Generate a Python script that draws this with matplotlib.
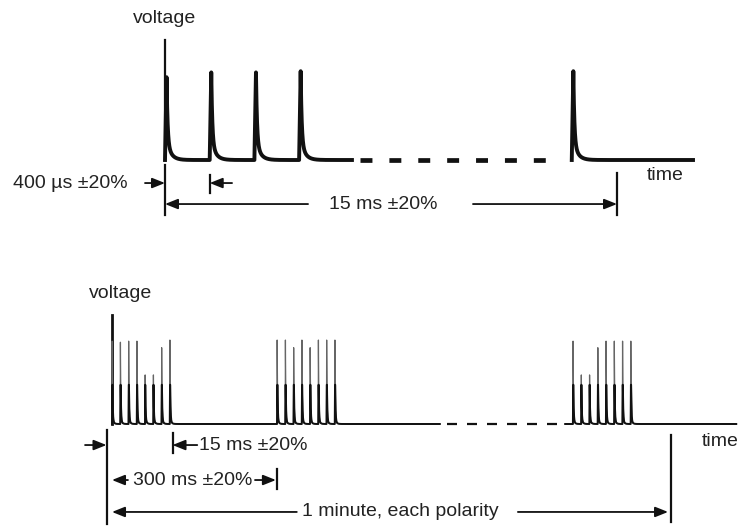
import numpy as np
import matplotlib
matplotlib.use("Agg")
import matplotlib.pyplot as plt

plt.rcParams['font.family'] = ['Liberation Sans', 'DejaVu Sans']
plt.rcParams['lines.scale_dashes'] = False

# --- top trace: single pulses (time in microseconds, height relative to axis) ---
top_pulse_us = [0, 400, 800, 1200]
top_pulse_peak = [0.69, 0.73, 0.73, 0.74]
top_last_pulse_us = [3640]
top_last_peak = [0.74]
top_solid_end_us = 1673
top_gap_us = [1745, 3517]          # drawn dashed (broken time axis)
top_end_us = 4725
top_mark_us = 4045                 # "15 ms" marker, schematic position

# --- bottom trace: bursts of pulses (time in ms) ---
burst_ms = [
    [0, 15, 30, 45, 60, 75, 90, 105],
    [300, 315, 330, 345, 360, 375, 390, 405],
    [838, 853, 868, 883, 898, 913, 928, 943],
]
burst_peak = [
    [0.76, 0.75, 0.76, 0.76, 0.45, 0.45, 0.70, 0.77],
    [0.77, 0.77, 0.70, 0.77, 0.70, 0.77, 0.77, 0.77],
    [0.76, 0.45, 0.45, 0.70, 0.76, 0.76, 0.76, 0.76],
]
bot_solid_end_ms = 596
bot_gap_ms = [609, 818]
bot_restart_ms = 824
bot_end_ms = 1135
bot_pulse_mark_ms = 110            # "15 ms" marker after first burst
bot_mark_ms = 1016                 # "1 minute" marker, schematic position

W, H = 738, 526
fig = plt.figure(figsize=(W / 100, H / 100), dpi=100)
INK = '#111111'
TXT = '#222222'
FS = 14


def panel(top_px, bottom_px, x0_px, px_x, y0_px, px_y):
    # axes spanning full width; time origin at x0_px, baseline at y0_px
    ax = fig.add_axes([0, 1 - bottom_px / H, 1, (bottom_px - top_px) / H])
    ax.set_xlim(-x0_px / px_x, (W - x0_px) / px_x)
    ax.set_ylim(-(bottom_px - y0_px) / px_y, (y0_px - top_px) / px_y)
    ax.axis('off')
    return ax


def pulse_train(times, peaks, t_start, t_end, rise, tau, tail, tail_tau):
    # fast spike + slower tail, one pulse per start time
    t_all, y_all = [t_start], [0.0]
    edges = list(times[1:]) + [t_end]
    for t0, h, t1 in zip(times, peaks, edges):
        dt = np.concatenate([[0], np.geomspace(tau * 0.01, t1 - t0 - rise, 400)])
        y = (h - tail) * np.exp(-dt / tau) + tail * np.exp(-dt / tail_tau)
        t_all += [t0] + list(t0 + rise + dt)
        y_all += [0.0] + list(y)
    return np.array(t_all), np.array(y_all)


def arrow(ax, tail, head, lw=1.3):
    ax.annotate('', xy=head, xytext=tail,
                arrowprops=dict(arrowstyle='-|>,head_length=0.55,head_width=0.22',
                                mutation_scale=14, lw=lw, color=INK,
                                shrinkA=0, shrinkB=0))


# ================= top panel =================
ax1 = panel(0, 263, 165, 0.11175, 160, 120)

ax1.plot([0, 0], [0, 1.0], color=INK, lw=1.6)
ax1.text(0, 1.18, 'voltage', ha='center', va='center', fontsize=FS, color=TXT)

for times, peaks, t0, t1 in [
        (top_pulse_us, top_pulse_peak, top_pulse_us[0], top_solid_end_us),
        (top_last_pulse_us, top_last_peak, top_last_pulse_us[0], top_end_us)]:
    t, y = pulse_train(times, peaks, t0, t1, 14, 9, 0.16, 38)
    ax1.plot(t, y, color=INK, lw=2.8, solid_joinstyle='round')
ax1.plot(top_gap_us, [0, 0], color=INK, lw=3.4, dashes=(8.6, 12.2))
ax1.text(4313, -0.125, 'time', ha='left', va='center', fontsize=FS, color=TXT)

# 400 us marker
ax1.plot([top_pulse_us[0]] * 2, [-0.04, -0.46], color=INK, lw=1.6)
ax1.plot([top_pulse_us[1]] * 2, [-0.125, -0.275], color=INK, lw=1.6)
arrow(ax1, (-179, -0.192), (top_pulse_us[0], -0.192))
arrow(ax1, (600, -0.192), (top_pulse_us[1], -0.192))
ax1.text(-331, -0.192, '400 \u00b5s \u00b120%', ha='right', va='center',
         fontsize=FS, color=TXT)

# 15 ms marker
ax1.plot([top_mark_us] * 2, [-0.108, -0.458], color=INK, lw=1.6)
arrow(ax1, (1280, -0.367), (top_pulse_us[0], -0.367))
arrow(ax1, (2756, -0.367), (top_mark_us, -0.367))
ax1.text(1951, -0.367, '15 ms \u00b120%', ha='center', va='center',
         fontsize=FS, color=TXT)

# ================= bottom panel =================
ax2 = panel(263, 526, 112, 0.55, 424, 109)

ax2.plot([0, 0], [0, 1.0], color=INK, lw=2.0)
ax2.text(16, 1.20, 'voltage', ha='center', va='center', fontsize=FS, color=TXT)

segments = [
    (burst_ms[0] + burst_ms[1], burst_peak[0] + burst_peak[1], 0, bot_solid_end_ms),
    (burst_ms[2], burst_peak[2], bot_restart_ms, bot_end_ms),
]
for times, peaks, t0, t1 in segments:
    t, y = pulse_train(times, peaks, t0, t1, 0.3, 0.7, 0.04, 2.5)
    ax2.plot(t, y, color='#666666', lw=0.9)
    ax2.plot(t, np.minimum(y, 0.36), color=INK, lw=1.4)
ax2.plot(bot_gap_ms, [0, 0], color=INK, lw=1.6, dashes=(7.2, 7.2))
ax2.text(1073, -0.165, 'time', ha='left', va='center', fontsize=FS, color=TXT)

# start marker
ax2.plot([-9, -9], [-0.055, -0.917], color=INK, lw=1.6)
arrow(ax2, (-49, -0.193), (-10, -0.193))

# 15 ms marker
ax2.plot([bot_pulse_mark_ms] * 2, [-0.083, -0.266], color=INK, lw=1.6)
arrow(ax2, (155, -0.193), (bot_pulse_mark_ms, -0.193))
ax2.text(158, -0.193, '15 ms \u00b120%', ha='left', va='center',
         fontsize=FS, color=TXT)

# 300 ms marker
ax2.plot([burst_ms[1][0]] * 2, [-0.413, -0.596], color=INK, lw=1.6)
arrow(ax2, (29, -0.514), (burst_ms[0][0], -0.514))
arrow(ax2, (260, -0.514), (burst_ms[1][0] - 2, -0.514))
ax2.text(147, -0.514, '300 ms \u00b120%', ha='center', va='center',
         fontsize=FS, color=TXT)

# 1 minute marker
ax2.plot([bot_mark_ms] * 2, [-0.10, -0.90], color=INK, lw=1.6)
arrow(ax2, (336, -0.807), (burst_ms[0][0], -0.807))
arrow(ax2, (738, -0.807), (bot_mark_ms - 5, -0.807))
ax2.text(525, -0.807, '1 minute, each polarity', ha='center', va='center',
         fontsize=FS, color=TXT)

fig.savefig('out.png', dpi=100)
